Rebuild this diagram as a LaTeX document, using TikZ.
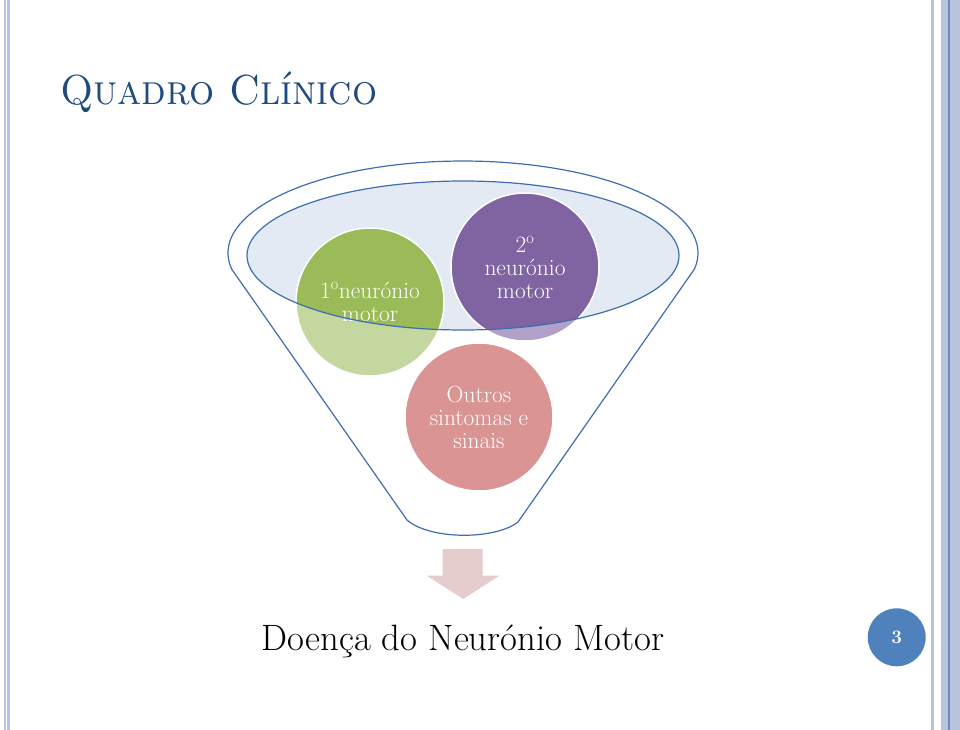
\documentclass[tikz,border=0pt]{standalone}
\usepackage{fontspec}
\definecolor{stripe}{HTML}{B9C5DC}
\definecolor{stripedark}{HTML}{7189BA}
\definecolor{titleblue}{HTML}{1F4A7E}
\definecolor{funnelblue}{HTML}{3F6EAF}
\definecolor{bowl}{HTML}{E4EAF3}
\definecolor{greenA}{HTML}{9BBB59}
\definecolor{greenB}{HTML}{C4D79F}
\definecolor{purpA}{HTML}{8063A1}
\definecolor{purpB}{HTML}{B1A1C8}
\definecolor{pinkA}{HTML}{D99493}
\definecolor{arrowpink}{HTML}{E6CDCD}
\definecolor{pagenum}{HTML}{4F81BD}
\begin{document}
\begin{tikzpicture}[x=1pt,y=-1pt,
  funnelline/.style={draw=funnelblue, line width=1.2pt},
  disc/.style={circle, minimum size=148pt, inner sep=0pt, draw=white, line width=1.5pt,
    text=white, align=center, font=\fontsize{23.4}{23}\selectfont},
  bowlshape/.style={x radius=216pt, y radius=74.5pt}]
\useasboundingbox (0,0) rectangle (960,730);
% page side stripes
\fill[stripe] (4,0) rectangle (5.7,730);
\fill[stripe] (7,0) rectangle (10.3,730);
\fill[stripe] (930.7,0) rectangle (934.3,730);
\fill[stripe] (940.7,0) rectangle (960,730);
\fill[stripedark] (948.3,0) rectangle (949.7,730);
% title
\node[anchor=base west, text=titleblue, inner sep=0pt, xscale=0.94,
  font=\fontsize{42}{42}\selectfont\scshape] (title) at (60,105) {Quadro Clínico};
% funnel
\coordinate (bowlc) at (463,255.5);
\fill[white] (231.6,269) arc[start angle=190, end angle=-10, x radius=235pt, y radius=92pt]
  -- (518,522) .. controls (495,540) and (430,540) .. (407,520) -- cycle;
\draw[funnelline] (231.6,269) arc[start angle=190, end angle=-10, x radius=235pt, y radius=92pt]
  -- (518,522) .. controls (495,540) and (430,540) .. (407,520) -- cycle;
\fill[bowl] (bowlc) ellipse [bowlshape];
% circles
\node[disc, fill=pinkA] (m3) at (479,417) {Outros\\sintomas e\\sinais};
\node[disc, fill=greenB, path picture={\fill[greenA] (bowlc) ellipse [bowlshape];}]
  (m1) at (370,302) {1\textsuperscript{o}neurónio\\motor};
\node[disc, fill=purpB, path picture={\fill[purpA] (bowlc) ellipse [bowlshape];}]
  (m2) at (525,267) {2\textsuperscript{o}\\neurónio\\motor};
\draw[funnelline] (bowlc) ellipse [bowlshape];
% arrow
\fill[arrowpink] (442.7,549) -- (482.7,549) -- (482.7,575.7) -- (499.3,575.7)
  -- (463.3,599) -- (426.7,575.7) -- (442.7,575.7) -- cycle;
% result
\node[anchor=base, inner sep=0pt, font=\fontsize{36.7}{40}\selectfont] (dnm) at (463,650)
  {Doença do Neurónio Motor};
% page number
\node[circle, fill=pagenum, minimum size=58pt, inner sep=0pt, text=white,
  font=\fontsize{19}{19}\selectfont\bfseries] (pg) at (896.7,637.3) {3};
\end{tikzpicture}
\end{document}
